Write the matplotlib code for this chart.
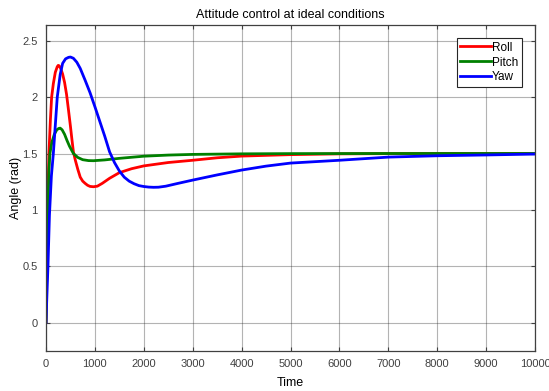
import matplotlib.pyplot as plt

plt.rcParams['font.family'] = ['Liberation Sans', 'DejaVu Sans']

# values
roll_t = [0, 20, 40, 60, 90, 115, 150, 190, 230, 250, 270, 300, 340, 380, 420, 460, 500, 530, 560, 600, 650, 700,
          750, 800, 850, 900, 970, 1050, 1150, 1300, 1500, 1750, 2000, 2500, 3000, 3500, 4000, 5000,
          6000, 7000, 8000, 10000]
roll_y = [0, 0.6, 1.15, 1.5, 1.8, 2.0, 2.12, 2.22, 2.27, 2.282, 2.278, 2.255, 2.205, 2.13, 2.025, 1.885, 1.74,
          1.625, 1.515, 1.44, 1.36, 1.29, 1.255, 1.235, 1.218, 1.208, 1.205, 1.21, 1.235, 1.28, 1.33, 1.365, 1.39,
          1.42, 1.44, 1.462, 1.477, 1.49, 1.497, 1.499, 1.5, 1.5]

pitch_t = [0, 20, 40, 60, 80, 120, 170, 220, 260, 290, 330, 380, 430, 480, 560, 650, 750, 870, 970,
           1200, 1500, 2000, 2500, 3000, 4000, 5000, 7000, 10000]
pitch_y = [0, 0.55, 1.05, 1.35, 1.5, 1.6, 1.67, 1.71, 1.722, 1.725, 1.71, 1.67, 1.615, 1.565, 1.5, 1.465,
           1.445, 1.437, 1.436, 1.443, 1.457, 1.476, 1.486, 1.492, 1.497, 1.499, 1.5, 1.5]

yaw_t = [0, 15, 40, 70, 110, 150, 190, 230, 290, 340, 400, 460, 500, 560, 630, 700, 800, 900, 1000,
         1100, 1200, 1300, 1400, 1500, 1600, 1700, 1800, 1900, 2000, 2100, 2200, 2300, 2450, 2700, 3000,
         3500, 4000, 4500, 5000, 6000, 7000, 8000, 9000, 10000]
yaw_y = [0, 0.2, 0.5, 0.95, 1.3, 1.5, 1.75, 2.0, 2.2, 2.3, 2.34, 2.353, 2.356, 2.345, 2.31, 2.255, 2.15, 2.04, 1.915,
         1.785, 1.655, 1.515, 1.42, 1.345, 1.29, 1.255, 1.232, 1.215, 1.207, 1.202, 1.2, 1.201, 1.21, 1.235, 1.264,
         1.31, 1.353, 1.388, 1.415, 1.44, 1.468, 1.48, 1.487, 1.495]

x_ticks = list(range(0, 10001, 1000))
y_ticks = [0, 0.5, 1, 1.5, 2, 2.5]
y_tick_labels = ['0', '0.5', '1', '1.5', '2', '2.5']

fig = plt.figure(figsize=(5.49, 3.91), dpi=100)
ax = fig.add_axes([0.0838, 0.103, 0.8907, 0.833])

ax.plot(roll_t, roll_y, color='#ff0000', lw=2.0, label='Roll')
ax.plot(pitch_t, pitch_y, color='#008000', lw=2.0, label='Pitch')
ax.plot(yaw_t, yaw_y, color='#0000ff', lw=2.0, label='Yaw')

ax.set_xlim(0, 10000)
ax.set_ylim(-0.25, 2.64)
ax.set_xticks(x_ticks)
ax.set_xticklabels([str(t) for t in x_ticks])
ax.set_yticks(y_ticks)
ax.set_yticklabels(y_tick_labels)
ax.tick_params(direction='in', top=True, right=True, labelsize=8, labelcolor='#404040',
               length=3, color='#404040', pad=6)
ax.grid(True, color='#262626', alpha=0.35, lw=0.8)
for sp in ax.spines.values():
    sp.set_color('#404040')
    sp.set_linewidth(0.9)

ax.set_title('Attitude control at ideal conditions', fontsize=9, pad=5)
ax.set_xlabel('Time', fontsize=9, labelpad=6)
ax.set_ylabel('Angle (rad)', fontsize=9, labelpad=0)

leg = ax.legend(loc='upper right', fontsize=8.5, handlelength=2.6, handletextpad=0.1,
                borderpad=0.3, labelspacing=0.25, fancybox=False, framealpha=1,
                bbox_to_anchor=(0.973, 0.96), borderaxespad=0)
leg.get_frame().set_edgecolor('#262626')
leg.get_frame().set_linewidth(0.8)

fig.savefig('out.png', dpi=100)
